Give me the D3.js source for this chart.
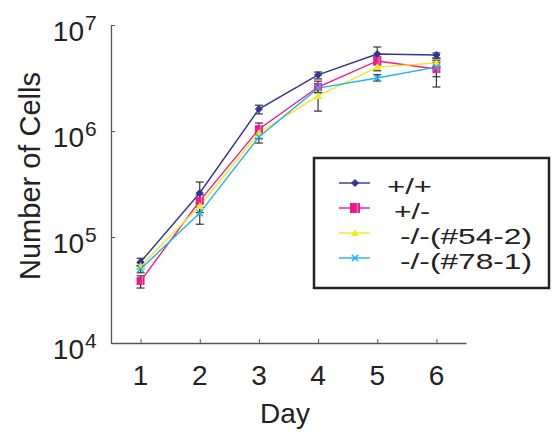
<!DOCTYPE html>
<html>
<head>
<meta charset="utf-8">
<script src="https://cdnjs.cloudflare.com/ajax/libs/d3/7.8.5/d3.min.js"></script>
<style>
  body { margin: 0; background: #fff; }
  svg text { font-family: Arial, "Liberation Sans", Helvetica, sans-serif; fill: #222; }
</style>
</head>
<body>
<svg id="chart" width="558" height="435"></svg>
<script>
var days = [1, 2, 3, 4, 5, 6];
var yTicks = [1e4, 1e5, 1e6, 1e7];

var seriesNames = ["+/+", "+/-", "-/-(#54-2)", "-/-(#78-1)"];
var seriesColors = ["#333399", "#ee1a8c", "#f4e820", "#1eb4ec"];
var seriesMarkers = ["diamond", "square", "triangle", "cross"];

var wt = [58000, 260000, 1610000, 3380000, 5330000, 5210000];
var het = [38400, 219000, 1040000, 2600000, 4580000, 3840000];
var ko54 = [53000, 196000, 960000, 2140000, 4010000, 4380000];
var ko78 = [49900, 168000, 880000, 2540000, 3160000, 4010000];

var wtLo = [54000, 210000, 1450000, 3100000, 4900000, 4900000];
var wtHi = [63000, 330000, 1750000, 3600000, 6200000, 5450000];
var hetLo = [33000, 190000, 920000, 2300000, 4200000, 2600000];
var hetHi = [43000, 250000, 1190000, 2950000, 5000000, 4600000];
var ko54Lo = [50000, 170000, 850000, 1540000, 3700000, 4000000];
var ko54Hi = [57000, 225000, 1080000, 2700000, 4400000, 4800000];
var ko78Lo = [46000, 132000, 770000, 2300000, 2960000, 3250000];
var ko78Hi = [53000, 210000, 980000, 2800000, 3400000, 4400000];

var values = [wt, het, ko54, ko78];
var lows = [wtLo, hetLo, ko54Lo, ko78Lo];
var highs = [wtHi, hetHi, ko54Hi, ko78Hi];

var svg = d3.select("#chart");
var plotLeft = 111, plotRight = 466, plotTop = 25, plotBottom = 343;

var x = d3.scaleLinear().domain([0.5, 6.5]).range([plotLeft, plotRight]);
var y = d3.scaleLog().domain([1e4, 1e7]).range([plotBottom, plotTop]);

// axes
var xAxis = svg.append("g")
    .attr("transform", "translate(0," + plotBottom + ")")
    .call(d3.axisBottom(x).tickValues(days).tickSizeInner(-4).tickSizeOuter(0).tickFormat(""));
var yAxis = svg.append("g")
    .attr("transform", "translate(" + plotLeft + ",0)")
    .call(d3.axisLeft(y).tickValues(yTicks).tickSizeInner(-4).tickSizeOuter(0).tickFormat(""));
[xAxis, yAxis].forEach(function (a) {
    a.select(".domain").attr("stroke", "#555").attr("stroke-width", 1.3);
    a.selectAll(".tick line").attr("stroke", "#555");
});

// x tick labels
svg.append("g").selectAll("text").data(days).enter().append("text")
    .attr("x", function (d) { return x(d); })
    .attr("y", 385)
    .attr("text-anchor", "middle")
    .attr("font-size", 28)
    .text(function (d) { return d; });

// y tick labels: 10 with exponent
var yl = svg.append("g").selectAll("g").data(yTicks).enter().append("g");
yl.append("text")
    .attr("x", 84)
    .attr("y", function (d) { return y(d) + 16; })
    .attr("text-anchor", "end")
    .attr("font-size", 28)
    .text("10");
yl.append("text")
    .attr("x", 85)
    .attr("y", function (d) { return y(d) + 5; })
    .attr("font-size", 21)
    .text(function (d) { return Math.round(Math.log10(d)); });

// axis titles
svg.append("text")
    .attr("transform", "translate(30,176) rotate(-90)")
    .attr("text-anchor", "middle")
    .attr("dominant-baseline", "central")
    .attr("font-size", 29)
    .text("Number of Cells");
svg.append("text")
    .attr("x", 285).attr("y", 423)
    .attr("text-anchor", "middle")
    .attr("font-size", 28)
    .text("Day");

var line = d3.line()
    .x(function (d, i) { return x(days[i]); })
    .y(function (d) { return y(d); });

// error bars
var eb = svg.append("g");
values.forEach(function (vals, s) {
    days.forEach(function (d, i) {
        var cx = x(d), y1 = y(lows[s][i]), y2 = y(highs[s][i]);
        eb.append("line").attr("x1", cx).attr("x2", cx).attr("y1", y1).attr("y2", y2)
            .attr("stroke", "#333").attr("stroke-width", 1.2);
        [y1, y2].forEach(function (yy) {
            eb.append("line").attr("x1", cx - 4).attr("x2", cx + 4).attr("y1", yy).attr("y2", yy)
                .attr("stroke", "#333").attr("stroke-width", 1.2);
        });
    });
});

// lines
values.forEach(function (vals, s) {
    svg.append("path").datum(vals)
        .attr("d", line)
        .attr("fill", "none")
        .attr("stroke", seriesColors[s])
        .attr("stroke-width", 1.4);
});

function drawMarker(g, type, color, cx, cy, scale) {
    scale = scale || 1;
    if (type === "diamond") {
        var r = 3.5 * scale;
        g.append("path").attr("d", "M" + cx + "," + (cy - r) + "L" + (cx + r) + "," + cy + "L" + cx + "," + (cy + r) + "L" + (cx - r) + "," + cy + "Z")
            .attr("fill", color).attr("stroke", color);
    } else if (type === "square") {
        var h = 4 * scale;
        g.append("rect").attr("x", cx - h).attr("y", cy - h).attr("width", 2 * h).attr("height", 2 * h)
            .attr("fill", color);
        g.append("line").attr("x1", cx + h * 0.45).attr("x2", cx + h * 0.45).attr("y1", cy - h).attr("y2", cy + h)
            .attr("stroke", "#f9a8d4").attr("stroke-width", 0.8);
    } else if (type === "triangle") {
        var t = 4 * scale;
        g.append("path").attr("d", "M" + cx + "," + (cy - t) + "L" + (cx + t) + "," + (cy + t * 0.75) + "L" + (cx - t) + "," + (cy + t * 0.75) + "Z")
            .attr("fill", color);
    } else {
        var c = 3.2 * scale;
        g.append("path").attr("d", "M" + (cx - c) + "," + (cy - c) + "L" + (cx + c) + "," + (cy + c) + "M" + (cx - c) + "," + (cy + c) + "L" + (cx + c) + "," + (cy - c))
            .attr("stroke", color).attr("stroke-width", 1.5);
    }
}

// markers
var mk = svg.append("g");
values.forEach(function (vals, s) {
    vals.forEach(function (v, i) {
        drawMarker(mk, seriesMarkers[s], seriesColors[s], x(days[i]), y(v), 1);
    });
});

// legend
var lg = svg.append("g");
lg.append("rect")
    .attr("x", 314).attr("y", 158).attr("width", 235).attr("height", 130)
    .attr("fill", "#fff").attr("stroke", "#222").attr("stroke-width", 2.5);
var rowY = [183, 208, 233, 258];
var textX = [387, 394, 400, 400];
var textW = [45, 36, 132, 132];
seriesNames.forEach(function (name, s) {
    lg.append("line").attr("x1", 339).attr("x2", 370).attr("y1", rowY[s]).attr("y2", rowY[s])
        .attr("stroke", seriesColors[s]).attr("stroke-width", 1.4);
    drawMarker(lg, seriesMarkers[s], seriesColors[s], 355, rowY[s], s === 1 ? 1.25 : 1);
    lg.append("text")
        .attr("x", textX[s]).attr("y", rowY[s] + 11)
        .attr("font-size", 22)
        .attr("textLength", textW[s])
        .attr("lengthAdjust", "spacingAndGlyphs")
        .text(name);
});
</script>
</body>
</html>
